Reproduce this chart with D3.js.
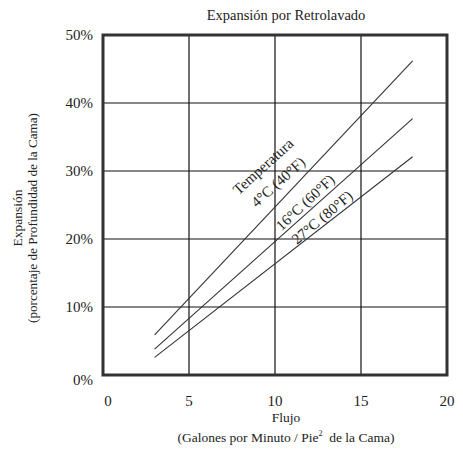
<!DOCTYPE html>
<html><head><meta charset="utf-8">
<script src="https://cdn.jsdelivr.net/npm/d3@7"></script>
<style>
body{margin:0;background:#fff}
</style></head>
<body><svg id="c" width="463" height="455" font-family="Liberation Serif, Tinos, Times New Roman, serif"></svg>
<script>
const xTicks=[0,5,10,15,20];
const yTicks=[0,10,20,30,40,50];
const flowX=[3,18];
const exp4C=[5.9,46.2];
const exp16C=[3.8,37.7];
const exp27C=[2.6,32.1];
const seriesLabels=["4°C (40°F)","16°C (60°F)","27°C (80°F)"];
const legendTitle="Temperatura";

const FONT="'Liberation Serif', Tinos, 'Times New Roman', serif";
const svg=d3.select("#c");
const x=d3.scaleLinear().domain([0,20]).range([103,447]);
const y=d3.scaleLinear().domain([0,50]).range([375,35]);

// grid
const g=svg.append("g");
g.selectAll(".gx").data(xTicks.slice(1,-1)).join("line")
  .attr("x1",d=>x(d)).attr("x2",d=>x(d)).attr("y1",y(0)).attr("y2",y(50))
  .attr("stroke","#111").attr("stroke-width",1.2);
g.selectAll(".gy").data(yTicks.slice(1,-1)).join("line")
  .attr("y1",d=>y(d)).attr("y2",d=>y(d)).attr("x1",x(0)).attr("x2",x(20))
  .attr("stroke","#111").attr("stroke-width",1.2);

// series lines
const series=[exp4C,exp16C,exp27C];
const line=d3.line().x((d,i)=>x(flowX[i])).y(d=>y(d));
svg.selectAll(".s").data(series).join("path")
  .attr("d",d=>line(d)).attr("fill","none").attr("stroke","#333").attr("stroke-width",1.1);

// frame
svg.append("rect").attr("x",x(0)).attr("y",y(50)).attr("width",x(20)-x(0)).attr("height",y(0)-y(50))
  .attr("fill","none").attr("stroke","#333").attr("stroke-width",3);

function T(sel){return sel.style("font-family",FONT).attr("fill","#222");}

// tick labels
T(svg.selectAll(".xt").data(xTicks).join("text"))
  .attr("x",d=>x(d)+(d===0?5:0)).attr("y",406).attr("text-anchor","middle")
  .style("font-size","15px").text(d=>d);
T(svg.selectAll(".yt").data(yTicks).join("text"))
  .attr("x",93).attr("y",d=>y(d)+(d===0?5:0)+5).attr("text-anchor","end")
  .style("font-size","15px").text(d=>d+"%");

// title
T(svg.append("text")).attr("x",286).attr("y",20).attr("text-anchor","middle")
  .style("font-size","14.5px").text("Expansión por Retrolavado");

// x title
T(svg.append("text")).attr("x",286).attr("y",422).attr("text-anchor","middle")
  .style("font-size","13.5px").text("Flujo");
const xt2=T(svg.append("text")).attr("x",286).attr("y",442).attr("text-anchor","middle").style("font-size","13.5px");
xt2.append("tspan").text("(Galones por Minuto / Pie");
xt2.append("tspan").attr("dy",-6).style("font-size","8px").text("2");
xt2.append("tspan").attr("dy",6).text("\u00a0 de la Cama)");

// y title
const yt=T(svg.append("text")).attr("transform","translate(22,218) rotate(-90)").attr("text-anchor","middle").style("font-size","13.5px");
yt.append("tspan").attr("x",0).attr("dy",0).text("Expansión");
yt.append("tspan").attr("x",0).attr("dy",15).text("(porcentaje de Profundidad de la Cama)")
  .attr("textLength",210).attr("lengthAdjust","spacingAndGlyphs");

// line labels
const labels=[
  {t:legendTitle,px:9.3,py:30.7,a:-42},
  {t:seriesLabels[0],px:10.17,py:28.4,a:-42},
  {t:seriesLabels[1],px:11.74,py:25.4,a:-43},
  {t:seriesLabels[2],px:12.73,py:23.2,a:-40}
];
T(svg.selectAll(".lb").data(labels).join("text"))
  .attr("transform",d=>`translate(${x(d.px)},${y(d.py)}) rotate(${d.a})`)
  .attr("text-anchor","middle").attr("dy","0.35em")
  .style("font-size","15px").text(d=>d.t);
</script></body></html>
